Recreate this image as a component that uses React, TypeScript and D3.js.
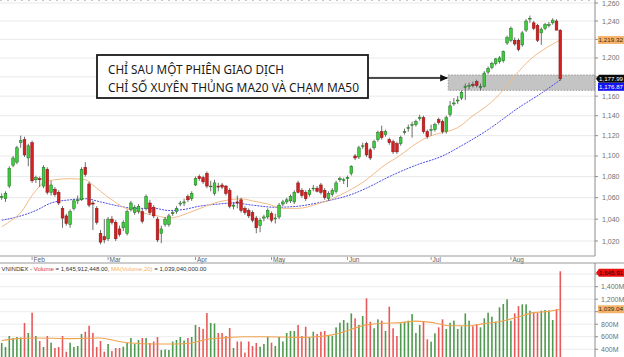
import React from 'react';
import * as d3 from 'd3';

const monthLabels = ['Feb', 'Mar', 'Apr', 'May', 'Jun', 'Jul', 'Aug'];
const monthStartIndex = [8, 28, 51, 71, 91, 113, 134];

const opens = [
  1061, 1059, 1071, 1091, 1094, 1113, 1116, 1098, 1113, 1077,
  1078, 1071, 1087, 1065, 1068, 1065, 1050, 1043, 1035, 1050,
  1057, 1058, 1089, 1073, 1055, 1050, 1027, 1024, 1022, 1040,
  1037, 1031, 1032, 1027, 1049, 1046, 1047, 1047, 1050, 1055,
  1051, 1040, 1027, 1035, 1035, 1045, 1047, 1054, 1055, 1061,
  1059, 1072, 1080, 1079, 1083, 1071, 1064, 1071, 1072, 1071,
  1067, 1052, 1056, 1058, 1050, 1048, 1046, 1041, 1034, 1041,
  1042, 1045, 1041, 1042, 1054, 1056, 1057, 1056, 1074, 1067,
  1065, 1063, 1069, 1069, 1072, 1067, 1059, 1063, 1066, 1077,
  1077, 1078, 1083, 1100, 1099, 1110, 1112, 1106, 1108, 1116,
  1124, 1121, 1116, 1114, 1112, 1112, 1123, 1127, 1131, 1131,
  1137, 1138, 1124, 1126, 1126, 1136, 1134, 1124, 1141, 1152,
  1155, 1158, 1170, 1170, 1172, 1175, 1170, 1170, 1185, 1190,
  1194, 1196, 1197, 1216, 1219, 1219, 1219, 1214, 1230, 1243,
  1238, 1235, 1227, 1232, 1236, 1238, 1240, 1230,
];
const highs = [
  1064, 1066, 1090, 1100, 1110, 1120, 1119, 1112, 1115, 1081,
  1080, 1091, 1089, 1076, 1070, 1067, 1052, 1045, 1049, 1059,
  1062, 1089, 1094, 1075, 1057, 1052, 1030, 1040, 1042, 1043,
  1039, 1034, 1039, 1049, 1057, 1053, 1054, 1050, 1063, 1058,
  1053, 1042, 1034, 1042, 1045, 1048, 1052, 1057, 1059, 1063,
  1066, 1080, 1082, 1081, 1085, 1076, 1077, 1074, 1074, 1072,
  1069, 1056, 1062, 1060, 1052, 1050, 1048, 1043, 1041, 1044,
  1050, 1047, 1045, 1055, 1058, 1060, 1063, 1067, 1076, 1069,
  1067, 1069, 1072, 1071, 1074, 1069, 1066, 1069, 1076, 1080,
  1079, 1081, 1091, 1102, 1110, 1113, 1114, 1108, 1116, 1125,
  1130, 1126, 1118, 1116, 1114, 1120, 1127, 1131, 1134, 1136,
  1141, 1140, 1126, 1131, 1133, 1138, 1136, 1140, 1155, 1158,
  1160, 1166, 1173, 1174, 1175, 1177, 1173, 1186, 1191, 1196,
  1200, 1202, 1208, 1224, 1234, 1222, 1221, 1229, 1242, 1246,
  1240, 1237, 1233, 1238, 1239, 1243, 1242, 1231,
];
const lows = [
  1058, 1056, 1069, 1089, 1092, 1108, 1099, 1090, 1074, 1074,
  1070, 1069, 1063, 1062, 1061, 1053, 1032, 1034, 1032, 1048,
  1054, 1057, 1080, 1051, 1030, 1035, 1017, 1018, 1020, 1035,
  1020, 1024, 1029, 1025, 1047, 1044, 1045, 1036, 1048, 1044,
  1041, 1019, 1018, 1033, 1033, 1043, 1045, 1052, 1052, 1056,
  1057, 1071, 1076, 1073, 1069, 1066, 1062, 1066, 1068, 1062,
  1050, 1049, 1050, 1046, 1044, 1041, 1037, 1027, 1028, 1038,
  1040, 1037, 1036, 1040, 1052, 1054, 1055, 1054, 1064, 1060,
  1057, 1061, 1066, 1065, 1063, 1058, 1057, 1061, 1064, 1075,
  1073, 1070, 1081, 1096, 1097, 1107, 1099, 1096, 1106, 1114,
  1116, 1119, 1111, 1102, 1102, 1110, 1121, 1124, 1118, 1129,
  1135, 1122, 1117, 1120, 1124, 1131, 1122, 1122, 1139, 1150,
  1152, 1156, 1156, 1167, 1169, 1169, 1166, 1169, 1183, 1188,
  1192, 1194, 1195, 1214, 1217, 1213, 1207, 1212, 1228, 1238,
  1230, 1217, 1214, 1230, 1233, 1236, 1230, 1176,
];
const closes = [
  1061, 1064, 1088, 1098, 1108, 1115, 1101, 1110, 1076, 1079,
  1077, 1089, 1065, 1072, 1063, 1055, 1041, 1036, 1047, 1057,
  1058, 1087, 1082, 1053, 1054, 1037, 1019, 1021, 1040, 1037,
  1022, 1026, 1037, 1047, 1055, 1051, 1052, 1038, 1061, 1046,
  1043, 1021, 1031, 1040, 1043, 1046, 1050, 1055, 1056, 1058,
  1064, 1078, 1078, 1075, 1071, 1071, 1074, 1070, 1070, 1064,
  1052, 1053, 1055, 1048, 1046, 1043, 1039, 1032, 1039, 1042,
  1048, 1039, 1041, 1053, 1056, 1058, 1061, 1065, 1065, 1062,
  1059, 1067, 1069, 1066, 1065, 1060, 1064, 1067, 1074, 1078,
  1077, 1079, 1090, 1098, 1108, 1110, 1101, 1098, 1114, 1123,
  1118, 1124, 1113, 1104, 1104, 1118, 1124, 1128, 1131, 1134,
  1138, 1124, 1119, 1126, 1131, 1133, 1124, 1138, 1150, 1153,
  1156, 1164, 1170, 1171, 1171, 1171, 1170, 1184, 1189, 1194,
  1199, 1200, 1207, 1222, 1232, 1215, 1209, 1227, 1240, 1243,
  1232, 1219, 1231, 1236, 1236, 1241, 1230, 1177.99,
];
// volume in millions of shares
const volumes = [
  500, 436, 612, 580, 596, 588, 820, 660, 984, 612,
  532, 436, 612, 505, 420, 436, 612, 361, 505, 436,
  452, 644, 681, 777, 660, 436, 532, 361, 484, 372,
  420, 420, 441, 500, 580, 484, 548, 580, 580, 500,
  524, 596, 388, 396, 388, 524, 548, 596, 540, 580,
  596, 788, 756, 724, 979, 820, 812, 660, 660, 612,
  740, 420, 524, 524, 345, 524, 452, 500, 441, 484,
  596, 505, 452, 596, 524, 660, 692, 692, 788, 612,
  761, 596, 681, 644, 681, 692, 628, 612, 750, 824,
  868, 824, 973, 894, 788, 931, 1214, 841, 735, 878,
  857, 692, 1080, 735, 612, 815, 841, 857, 963, 660,
  788, 841, 559, 521, 655, 750, 878, 724, 824, 857,
  724, 767, 973, 857, 767, 803, 750, 894, 984, 920,
  841, 1070, 1123, 1198, 857, 973, 1091, 1118, 1118, 1016,
  984, 984, 1016, 1027, 1020, 867, 1043, 1645.912448,
];

// moving averages (candle index, value)
const ma20Index = [0, 3, 5, 8, 11, 14, 18, 22, 24, 26, 29, 32, 35, 38, 41, 44, 47, 50, 53, 56, 60, 63, 66, 70, 74, 78, 83, 87, 91, 96, 100, 105, 109, 113, 117, 120, 124, 127, 131, 135, 139, 143, 147];
const ma20Values = [1033, 1040, 1046, 1062, 1074, 1077, 1078, 1077, 1072, 1066, 1058, 1051, 1048, 1045, 1043, 1041, 1043, 1047, 1051, 1055, 1058, 1059, 1057, 1054, 1050, 1050, 1054, 1059, 1066, 1077, 1089, 1101, 1112, 1120, 1124, 1128, 1140, 1148, 1162, 1181, 1198, 1210, 1219.32];
const ma50Index = [0, 4, 9, 13, 18, 22, 26, 31, 35, 40, 44, 48, 52, 57, 61, 66, 72, 78, 83, 87, 92, 96, 102, 109, 116, 121, 128, 136, 142, 147];
const ma50Values = [1039, 1042, 1048, 1055, 1058, 1059, 1056, 1052, 1050, 1050, 1048, 1049, 1052, 1054, 1055, 1053, 1051, 1052, 1055, 1058, 1063, 1069, 1080, 1091, 1100, 1110, 1126, 1148, 1163, 1176.87];
const volMaIndex = [0, 4, 9, 18, 26, 30, 34, 40, 46, 50, 54, 58, 64, 70, 78, 83, 87, 96, 100, 105, 109, 114, 118, 123, 127, 131, 136, 140, 144, 147];
const volMaValues = [540, 570, 580, 570, 580, 535, 500, 485, 485, 500, 560, 580, 600, 600, 590, 600, 630, 790, 815, 825, 850, 820, 775, 775, 810, 840, 920, 985, 1005, 1039.04];

const priceTicks = [1020, 1040, 1060, 1080, 1100, 1120, 1140, 1160, 1180, 1200, 1220, 1240, 1260];
const priceTickHidden = [1180, 1220];
const volTicks = [400, 600, 800, 1000, 1200, 1400, 1600];
const volTickHidden = [1000, 1600];

const annotationLines = ['CHỈ SAU MỘT PHIÊN GIAO DỊCH', 'CHỈ SỐ XUYÊN THỦNG MA20 VÀ CHẠM MA50'];

const fmt2 = d3.format(',.2f');
const fmt0 = d3.format(',');

export default function App() {
  const W = 624;
  const H = 357;
  const axisX = 595;
  const topBottom = 256;
  const volTop = 263;
  const n = closes.length;

  const x = d3.scaleLinear().domain([0, n - 1]).range([1.7, 560.3]);
  const yP = d3.scaleLog().domain([1020, 1260]).range([241, 3]);
  const yV = d3.scaleLinear().domain([0, 1000]).range([374.3, 311.7]);

  const ma20Path = d3.line<number>()
    .x((_, k) => x(ma20Index[k]))
    .y((d) => yP(d))
    .curve(d3.curveMonotoneX)(ma20Values) || '';
  const ma50Path = d3.line<number>()
    .x((_, k) => x(ma50Index[k]))
    .y((d) => yP(d))
    .curve(d3.curveMonotoneX)(ma50Values) || '';
  const volMaPath = d3.line<number>()
    .x((_, k) => x(volMaIndex[k]))
    .y((d) => yV(d))
    .curve(d3.curveMonotoneX)(volMaValues) || '';

  const bodyW = 2.7;
  const font = 'Liberation Sans, Arial, sans-serif';
  const last = n - 1;
  const lastClose = closes[last];
  const lastMa20 = ma20Values[ma20Values.length - 1];
  const lastMa50 = ma50Values[ma50Values.length - 1];
  const lastVol = volumes[last];
  const lastVolMa = volMaValues[volMaValues.length - 1];

  const zoneTop = yP(1182);
  const zoneBottom = yP(1166);
  const zoneLeft = x(117.5);

  const boxX = 97;
  const boxY = 55;
  const boxW = 271;
  const boxH = 43;
  const arrowY = 78;
  const lblFs = 6;
  const lblX = 598.5;

  return (
    <svg width={W} height={H} style={{ position: 'fixed', left: 0, top: 0, background: '#fff' }} fontFamily={font}>
      <defs>
        <clipPath id="topClip"><rect x={0} y={0} width={axisX} height={topBottom} /></clipPath>
        <clipPath id="volClip"><rect x={0} y={volTop + 1} width={axisX} height={H - volTop} /></clipPath>
        <marker id="arrowHead" markerWidth="8" markerHeight="8" refX="7" refY="4" orient="auto" markerUnits="userSpaceOnUse">
          <path d="M0,0.5 L8,4 L0,7.5 Z" fill="#111" />
        </marker>
      </defs>
      <rect x={0} y={0} width={W} height={H} fill="#fff" />
      <line x1={0} x2={axisX} y1={0.5} y2={0.5} stroke="#c8c8c8" strokeDasharray="2,5" />

      {priceTicks.map((t) => (
        <line key={'pg' + t} x1={0} x2={axisX} y1={yP(t)} y2={yP(t)} stroke="#e9e9e9" strokeWidth={1} />
      ))}

      <rect x={zoneLeft} y={zoneTop} width={axisX - zoneLeft} height={zoneBottom - zoneTop}
        fill="#c4c4c4" stroke="#8a8a8a" strokeDasharray="1.5,1.5" strokeWidth={0.8} />

      <g clipPath="url(#topClip)">
        <path d={ma50Path} fill="none" stroke="#4d4de6" strokeWidth={1} strokeDasharray="2,1" />
        <path d={ma20Path} fill="none" stroke="#f2bb86" strokeWidth={1} />
        {closes.map((c, i) => {
          const o = opens[i];
          const up = c >= o;
          const cx = x(i);
          const top = yP(Math.max(o, c));
          const bot = yP(Math.min(o, c));
          return (
            <g key={'c' + i}>
              <line x1={cx} x2={cx} y1={yP(highs[i])} y2={yP(lows[i])} stroke="#4a4a4a" strokeWidth={0.8} />
              <rect x={cx - bodyW / 2} y={top} width={bodyW} height={Math.max(bot - top, 0.8)}
                fill={up ? '#3ccd3c' : '#d42020'} stroke={up ? '#1f6b1f' : '#7d1212'} strokeWidth={0.5} />
            </g>
          );
        })}
      </g>

      <line x1={boxX + boxW} x2={zoneLeft - 1} y1={arrowY} y2={arrowY} stroke="#111" strokeWidth={1.4} markerEnd="url(#arrowHead)" />
      <rect x={boxX} y={boxY} width={boxW} height={boxH} fill="#fff" stroke="#1a1a1a" strokeWidth={1.8} />
      <text x={108} y={74} fontSize={12} fill="#1a1a1a" fontFamily="Noto Sans, DejaVu Sans, sans-serif"
        textLength={176} lengthAdjust="spacingAndGlyphs">{annotationLines[0]}</text>
      <text x={108} y={91.5} fontSize={12} fill="#1a1a1a" fontFamily="Noto Sans, DejaVu Sans, sans-serif"
        textLength={251} lengthAdjust="spacingAndGlyphs">{annotationLines[1]}</text>

      <line x1={axisX} x2={axisX} y1={0} y2={topBottom} stroke="#8c8c8c" />
      {priceTicks.map((t) => (
        <g key={'pt' + t}>
          <line x1={axisX} x2={axisX + 3} y1={yP(t)} y2={yP(t)} stroke="#8c8c8c" />
          {priceTickHidden.includes(t) ? null : (
            <text x={602} y={yP(t) + 2.5} fontSize={7} fill="#707070">{fmt0(t)}</text>
          )}
        </g>
      ))}

      <rect x={598} y={yP(lastMa20) - 4} width={26} height={8} fill="#f6b36b" />
      <text x={lblX} y={yP(lastMa20) + 2.2} fontSize={lblFs} fill="#3a2a10" textLength={24.5} lengthAdjust="spacingAndGlyphs">{fmt2(lastMa20)}</text>
      <path d={`M596,${yP(lastClose)} L599,${yP(lastClose) - 4} L624,${yP(lastClose) - 4} L624,${yP(lastClose) + 4} L599,${yP(lastClose) + 4} Z`} fill="#0a0a0a" />
      <text x={lblX + 0.5} y={yP(lastClose) + 2.2} fontSize={lblFs} fill="#fff" textLength={24} lengthAdjust="spacingAndGlyphs">{fmt2(lastClose)}</text>
      <rect x={598} y={yP(lastClose) + 4} width={26} height={8} fill="#1414f0" />
      <text x={lblX + 0.5} y={yP(lastClose) + 10.2} fontSize={lblFs} fill="#fff" textLength={24} lengthAdjust="spacingAndGlyphs">{fmt2(lastMa50)}</text>

      <line x1={0} x2={axisX} y1={topBottom} y2={topBottom} stroke="#9a9a9a" />
      {monthStartIndex.map((idx, k) => (
        <g key={'m' + k}>
          <line x1={x(idx)} x2={x(idx)} y1={topBottom + 1} y2={topBottom + 4} stroke="#808080" strokeWidth={0.8} />
          <text x={x(idx) + 1.5} y={261.5} fontSize={6.5} fill="#606060">{monthLabels[k]}</text>
        </g>
      ))}
      <line x1={0} x2={W} y1={volTop} y2={volTop} stroke="#9a9a9a" />

      {volTicks.map((t) => (
        <line key={'vg' + t} x1={0} x2={axisX} y1={yV(t)} y2={yV(t)} stroke="#ececec" />
      ))}

      <g clipPath="url(#volClip)">
        {volumes.map((v, i) => {
          const up = closes[i] >= opens[i];
          return (
            <rect key={'v' + i} x={x(i) - 0.8} y={yV(v)} width={1.6} height={H - yV(v)}
              fill={up ? '#4f9a4f' : '#e85a5a'} />
          );
        })}
        <path d={volMaPath} fill="none" stroke="#f0a24e" strokeWidth={1.1} />
      </g>

      <text x={1.5} y={271} fontSize={6} fill="#333" textLength={205} lengthAdjust="spacingAndGlyphs">
        <tspan>VNINDEX - </tspan>
        <tspan fill="#e03030">Volume</tspan>
        <tspan>{' = ' + fmt2(lastVol * 1e6) + ', '}</tspan>
        <tspan fill="#f5b060">MA(Volume,20)</tspan>
        <tspan>{' = ' + fmt2(Math.round(lastVolMa * 1e4) * 100)}</tspan>
      </text>

      <line x1={axisX} x2={axisX} y1={volTop} y2={H} stroke="#8c8c8c" />
      {volTicks.map((t) => (
        <g key={'vt' + t}>
          <line x1={axisX} x2={axisX + 3} y1={yV(t)} y2={yV(t)} stroke="#8c8c8c" />
          {volTickHidden.includes(t) ? null : (
            <text x={601} y={yV(t) + 2.5} fontSize={7} fill="#707070">{fmt0(t) + 'M'}</text>
          )}
        </g>
      ))}
      <path d={`M596,272.7 L599,268.7 L624,268.7 L624,276.7 L599,276.7 Z`} fill="#e81010" />
      <text x={lblX + 0.5} y={274.9} fontSize={lblFs} fill="#300" textLength={24} lengthAdjust="spacingAndGlyphs">{fmt2(lastVol)}</text>
      <rect x={598} y={yV(lastVolMa) - 4} width={26} height={8} fill="#f6b36b" />
      <text x={lblX} y={yV(lastVolMa) + 2.2} fontSize={lblFs} fill="#3a2a10" textLength={24.5} lengthAdjust="spacingAndGlyphs">{fmt2(lastVolMa)}</text>
    </svg>
  );
}
